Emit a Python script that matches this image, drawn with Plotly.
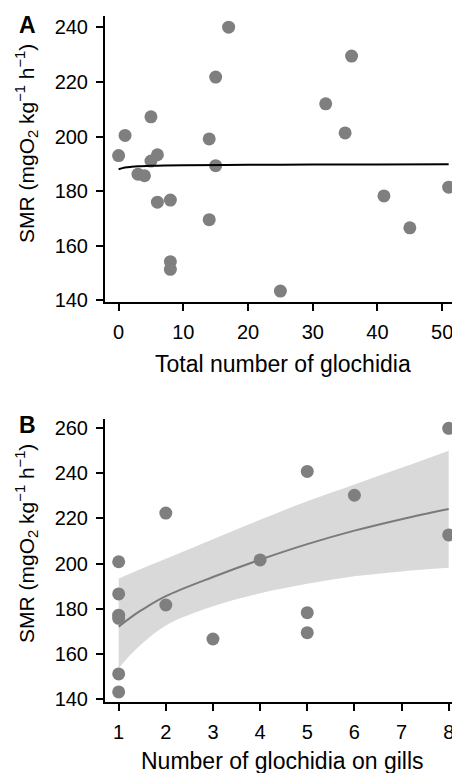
import plotly.graph_objects as go

# ---------------- Data ----------------
# Panel A: total number of glochidia vs SMR
a_glochidia = [0, 1, 3, 4, 5, 5, 6, 6, 8, 8, 8, 14, 14, 15, 15, 17, 25, 32, 35, 36, 41, 45, 51]
a_smr = [193.0, 200.4, 186.2, 185.6, 207.2, 191.0, 193.3, 175.9, 176.7, 154.1, 151.3,
         199.1, 169.5, 221.8, 189.3, 240.1, 143.3, 212.0, 201.3, 229.5, 178.2, 166.5, 181.4]
a_fit_x = [0, 1, 2, 3, 5, 10, 20, 30, 40, 51]
a_fit_y = [188.0, 188.6, 188.9, 189.1, 189.3, 189.5, 189.6, 189.7, 189.7, 189.8]

# Panel B: number of glochidia on gills vs SMR
b_gills = [1, 1, 1, 1, 1, 1, 2, 2, 3, 4, 5, 5, 5, 6, 8, 8]
b_smr = [200.8, 186.5, 177.1, 175.7, 151.0, 143.0, 222.4, 181.6, 166.5, 201.6,
         240.9, 178.2, 169.3, 230.3, 260.0, 212.7]
b_fit_x = [1, 1.25, 1.5, 2, 3, 4, 5, 6, 7, 8]
b_fit_y = [172.0, 176.0, 179.5, 185.5, 194.0, 201.7, 208.6, 214.6, 219.7, 224.2]
b_lower = [153.5, 159.5, 164.5, 172.5, 181.0, 186.8, 191.0, 194.3, 196.5, 198.1]
b_upper = [193.4, 195.6, 197.8, 202.1, 210.8, 219.4, 227.7, 235.1, 242.5, 250.1]

a_xticks = [0, 10, 20, 30, 40, 50]
a_yticks = [140, 160, 180, 200, 220, 240]
b_xticks = [1, 2, 3, 4, 5, 6, 7, 8]
b_yticks = [140, 160, 180, 200, 220, 240, 260]

# ---------------- Styles ----------------
FONT = "Liberation Sans, Arial, Helvetica, sans-serif"
PT_COLOR = "#7f7f7f"
TXT = "#000000"

fig = go.Figure()

# Panel B band
fig.add_trace(go.Scatter(x=b_fit_x, y=b_lower, mode="lines", line=dict(width=0, shape="spline"),
                         xaxis="x2", yaxis="y2", showlegend=False, hoverinfo="skip"))
fig.add_trace(go.Scatter(x=b_fit_x, y=b_upper, mode="lines", line=dict(width=0, shape="spline"),
                         fill="tonexty", fillcolor="#d9d9d9",
                         xaxis="x2", yaxis="y2", showlegend=False, hoverinfo="skip"))
fig.add_trace(go.Scatter(x=b_fit_x, y=b_fit_y, mode="lines", line=dict(color="#7a7a7a", width=2, shape="spline"),
                         xaxis="x2", yaxis="y2", showlegend=False))
fig.add_trace(go.Scatter(x=b_gills, y=b_smr, mode="markers",
                         marker=dict(color=PT_COLOR, size=13, line=dict(width=0)),
                         xaxis="x2", yaxis="y2", showlegend=False))

# Panel A
fig.add_trace(go.Scatter(x=a_glochidia, y=a_smr, mode="markers",
                         marker=dict(color=PT_COLOR, size=13, line=dict(width=0)),
                         xaxis="x", yaxis="y", showlegend=False))
fig.add_trace(go.Scatter(x=a_fit_x, y=a_fit_y, mode="lines", line=dict(color="black", width=2, shape="spline"),
                         xaxis="x", yaxis="y", showlegend=False))

axis_common = dict(showline=True, linecolor="black", linewidth=2, ticks="outside",
                   ticklen=7, tickwidth=1.5, tickcolor="black", showgrid=False, zeroline=False,
                   tickfont=dict(family=FONT, size=20, color=TXT), ticklabelstandoff=4)

# Page body has an 8px margin, so the figure is 8px smaller in each direction
fig.update_layout(
    width=452, height=765,
    margin=dict(l=97, r=0, t=8, b=71),
    paper_bgcolor="white", plot_bgcolor="white",
    xaxis=dict(domain=[0, 1], anchor="y", range=[-2.1, 52.75], tickvals=a_xticks, **axis_common),
    yaxis=dict(domain=[0.5831, 1], anchor="x", range=[139.3, 244.2], tickvals=a_yticks, **axis_common),
    xaxis2=dict(domain=[0, 1], anchor="y2", range=[0.71, 8.24], tickvals=b_xticks, **axis_common),
    yaxis2=dict(domain=[0, 0.4122], anchor="x2", range=[138.54, 264.05], tickvals=b_yticks, **axis_common),
)

ytitle = "SMR (mgO<sub>2</sub> kg<sup>−1</sup> h<sup>−1</sup>)"
ann = [
    dict(text="Total number of glochidia", x=0.5014, y=0.492, xref="paper", yref="paper",
         xanchor="center", yanchor="middle", showarrow=False, font=dict(family=FONT, size=23, color=TXT)),
    dict(text="Number of glochidia on gills", x=0.5014, y=-0.086, xref="paper", yref="paper",
         xanchor="center", yanchor="middle", showarrow=False, font=dict(family=FONT, size=23, color=TXT)),
    dict(text=ytitle, x=-0.2197, y=0.8135, xref="paper", yref="paper", textangle=-90,
         xanchor="center", yanchor="middle", showarrow=False, font=dict(family=FONT, size=21, color=TXT)),
    dict(text=ytitle, x=-0.2197, y=0.2305, xref="paper", yref="paper", textangle=-90,
         xanchor="center", yanchor="middle", showarrow=False, font=dict(family=FONT, size=21, color=TXT)),
    dict(text="<b>A</b>", x=-0.2197, y=0.9865, xref="paper", yref="paper",
         xanchor="center", yanchor="middle", showarrow=False, font=dict(family=FONT, size=23, color="black")),
    dict(text="<b>B</b>", x=-0.2197, y=0.4035, xref="paper", yref="paper",
         xanchor="center", yanchor="middle", showarrow=False, font=dict(family=FONT, size=23, color="black")),
]
fig.update_layout(annotations=ann)

fig.write_html("out.html")
